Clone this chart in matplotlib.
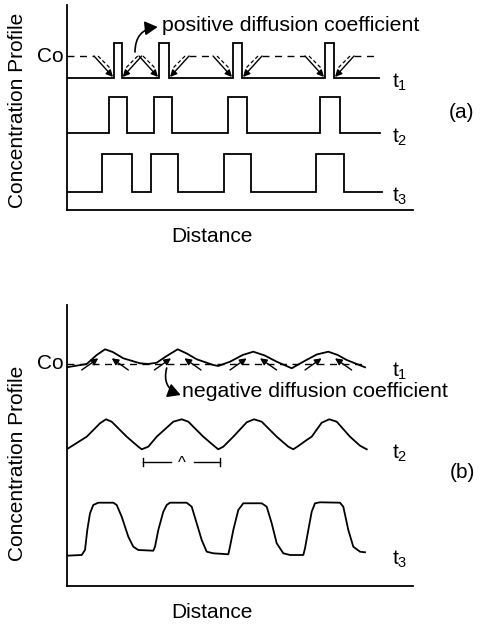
import matplotlib
matplotlib.use('Agg')
import matplotlib.pyplot as plt

plt.rcParams['font.family'] = ['Liberation Sans', 'DejaVu Sans']
plt.rcParams['mathtext.fontset'] = 'custom'
plt.rcParams['mathtext.rm'] = 'Liberation Sans'
plt.rcParams['mathtext.it'] = 'Liberation Sans'

# ---- panel (a): square pulses (distance units, concentration units) ----
a_co = 154
a_t1_base, a_t1_top, a_t1_end = 132, 167, 312
a_t1_left = [47.3, 92.3, 166.3, 258.3]
a_t1_right = [55, 102.3, 175.3, 267.3]

a_t2_base, a_t2_top, a_t2_end = 76.7, 113.3, 313
a_t2_left = [42.6, 87.3, 161.6, 253.3]
a_t2_right = [60.6, 105.6, 180.6, 273.3]

a_t3_base, a_t3_top, a_t3_end = 17.7, 55.7, 315
a_t3_left = [35.6, 84.3, 157.6, 249]
a_t3_right = [65, 111.6, 184, 277.3]

# ---- panel (b): smooth profiles ----
b_co = 222
b_t1_x = [0, 20, 30, 38.3, 46, 56.6, 73.3, 81.6, 90, 100, 111, 120, 130, 146.6, 151.6,
          163.3, 176, 186.6, 198, 210, 225, 236.6, 250, 261.6, 271, 280, 298.3]
b_t1_y = [218.7, 222, 231, 236.7, 234, 227.7, 222.7, 222, 223.3, 230, 236.7, 232.5, 226.7, 221, 220,
          224.3, 231, 234.3, 230.5, 224.3, 217.7, 224.3, 231.5, 234.3, 231, 226, 218.7]

b_t2_x = [0, 20, 33.3, 39.3, 45, 60, 71.6, 75, 81.6, 90, 106.6, 115, 121.6, 136.6, 148.3, 151.6,
          156.6, 166.6, 180, 187.3, 195, 210, 221.6, 226.6, 231.6, 240, 245, 255, 262.6, 270,
          283.3, 293.3, 300]
b_t2_y = [136.7, 149.3, 162.7, 166.7, 164.3, 149.3, 139.3, 136.7, 139.3, 149.3, 164.3, 166.7, 164.3,
          149.3, 139.3, 136.7, 139.3, 149.3, 163.7, 166.7, 164.3, 149.3, 139.3, 136.7, 140, 146,
          149.3, 163.3, 166.7, 164.3, 149.3, 140.3, 136.7]

b_t3_x = [0, 15, 18.3, 20.6, 23.3, 26.6, 31.6, 46.6, 50, 55, 61.6, 66.6, 71.6, 86.6, 88.3, 91.6,
          96.6, 100, 103.3, 120, 125, 130, 135, 140, 146.6, 161.6, 163.3, 166.6, 171.6, 176.6,
          195, 200, 205, 210, 216.6, 223.3, 236.6, 238.3, 241.6, 245, 248.3, 253.3, 273.3,
          276.6, 281.6, 286.6, 293.3, 298.3]
b_t3_y = [30.3, 31, 36, 56, 72.7, 81, 83.3, 83.3, 81, 69.3, 49.3, 39.3, 36, 35.3, 39.3, 56,
          74.3, 81, 83.3, 83.3, 79.3, 62.7, 46, 34.3, 32.7, 31.7, 39.3, 56, 76, 82.7,
          82.7, 79.3, 62.7, 42.7, 32.7, 31, 31, 37.7, 56, 74.3, 82.7, 83.7, 83.3,
          79.3, 56, 39.3, 34.3, 33.7]

b_peaks = [38.3, 111, 186.6, 261.6]
wavelength = (76.6, 153.3)

fig = plt.figure(figsize=(4.89, 6.26), dpi=100)
ax_a = fig.add_axes([0.1364, 0.6645, 0.7082, 0.3275])
ax_b = fig.add_axes([0.1364, 0.0639, 0.7082, 0.4489])

lw = 1.3
for ax, top in [(ax_a, 205), (ax_b, 281)]:
    ax.set_xlim(0, 346.3)
    ax.set_ylim(0, top)
    ax.set_xticks([])
    ax.set_yticks([])
    ax.spines['top'].set_visible(False)
    ax.spines['right'].set_visible(False)
    ax.spines['left'].set_linewidth(lw)
    ax.spines['bottom'].set_linewidth(lw)
    ax.patch.set_alpha(0)


def pulse_line(ax, base, top, lefts, rights, end):
    xs, ys = [0], [base]
    for l, r in zip(lefts, rights):
        xs += [l, l, r, r]
        ys += [base, top, top, base]
    xs.append(end)
    ys.append(base)
    ax.plot(xs, ys, color='black', lw=lw, solid_joinstyle='miter')


pulse_line(ax_a, a_t1_base, a_t1_top, a_t1_left, a_t1_right, a_t1_end)
pulse_line(ax_a, a_t2_base, a_t2_top, a_t2_left, a_t2_right, a_t2_end)
pulse_line(ax_a, a_t3_base, a_t3_top, a_t3_left, a_t3_right, a_t3_end)

# Co dashed level between the arrows
dash = dict(color='black', lw=1, dashes=(5, 4))
starts = [0] + [r + 20 for r in a_t1_right]
stops = [l - 20 for l in a_t1_left] + [310]
for s, e in zip(starts, stops):
    if e > s:
        ax_a.plot([s, e], [a_co, a_co], **dash)

arr = dict(arrowstyle='-|>', color='black', lw=1, mutation_scale=10, shrinkA=0, shrinkB=0)
for l, r in zip(a_t1_left, a_t1_right):
    ax_a.annotate('', xy=(l - 1, a_t1_base + 1), xytext=(l - 20, a_co), arrowprops=arr)
    ax_a.annotate('', xy=(r + 1, a_t1_base + 1), xytext=(r + 20, a_co), arrowprops=arr)
    ax_a.plot([l - 16, l - 4], [a_co, a_t1_base + 10], color='black', lw=0.9, dashes=(3, 2))
    ax_a.plot([r + 16, r + 4], [a_co, a_t1_base + 10], color='black', lw=0.9, dashes=(3, 2))

curved = dict(arrowstyle='-|>,head_length=0.45,head_width=0.25', color='black', lw=1.2,
              mutation_scale=17, shrinkA=0, shrinkB=0)
ax_a.annotate('', xy=(91, 183), xytext=(68.3, 158),
              arrowprops=dict(curved, connectionstyle='arc3,rad=-0.45'))
ax_a.text(95, 185, 'positive diffusion coefficient', fontsize=15.3, ha='left', va='center')
ax_a.text(-3, a_co, 'Co', fontsize=15, ha='right', va='center', clip_on=False)

# ---- panel (b) ----
ax_b.plot([0, 296], [b_co, b_co], **dash)
ax_b.plot(b_t1_x, b_t1_y, color='black', lw=lw)
ax_b.plot(b_t2_x, b_t2_y, color='black', lw=lw)
ax_b.plot(b_t3_x, b_t3_y, color='black', lw=lw)

for p in b_peaks:
    ax_b.annotate('', xy=(p - 6.7, 227.7), xytext=(p - 23.3, 216), arrowprops=arr)
    ax_b.annotate('', xy=(p + 6.7, 227.7), xytext=(p + 23.3, 216), arrowprops=arr)

ax_b.annotate('', xy=(114, 191), xytext=(100, 218),
              arrowprops=dict(curved, connectionstyle='arc3,rad=0.45'))
ax_b.text(115, 194, 'negative diffusion coefficient', fontsize=15.3, ha='left', va='center')
ax_b.text(-3, b_co, 'Co', fontsize=15, ha='right', va='center', clip_on=False)

# wavelength marker
lam_y = 123.7
mid = sum(wavelength) / 2
ax_b.plot([wavelength[0], mid - 11], [lam_y, lam_y], color='black', lw=1)
ax_b.plot([mid + 12, wavelength[1]], [lam_y, lam_y], color='black', lw=1)
for xe in wavelength:
    ax_b.plot([xe, xe], [lam_y - 4, lam_y + 4], color='black', lw=1)
ax_b.text(mid, lam_y - 1, '^', fontsize=12, ha='center', va='center')

# time labels
for ax, ys in [(ax_a, [a_t1_base, a_t2_base, a_t3_base]), (ax_b, [219, 137, 31])]:
    for i, y in enumerate(ys):
        ax.text(325.5, y - 4, r'$\mathregular{t_%d}$' % (i + 1), fontsize=15,
                ha='left', va='center', clip_on=False)

W, H = 489, 626
fig.text(462 / W, 1 - 113 / H, '(a)', fontsize=15, ha='center', va='center')
fig.text(462 / W, 1 - 472 / H, '(b)', fontsize=15, ha='center', va='center')
fig.text(212 / W, 1 - 237 / H, 'Distance', fontsize=15, ha='center', va='center')
fig.text(212 / W, 1 - 613 / H, 'Distance', fontsize=15, ha='center', va='center')
fig.text(18 / W, 1 - 110 / H, 'Concentration Profile', fontsize=15, ha='center',
         va='center', rotation=90)
fig.text(18 / W, 1 - 463 / H, 'Concentration Profile', fontsize=15, ha='center',
         va='center', rotation=90)

fig.savefig('out.png', dpi=100)
